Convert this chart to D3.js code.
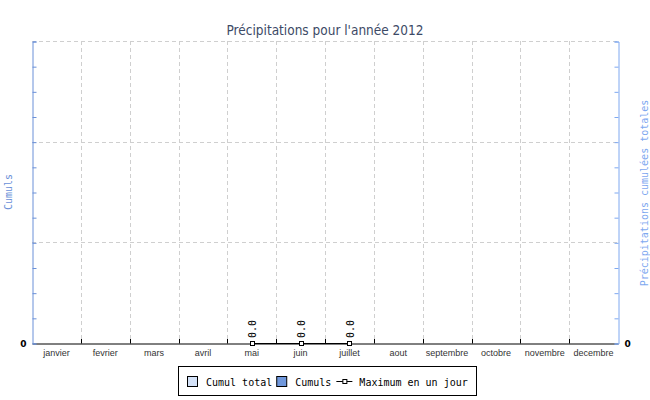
<!DOCTYPE html>
<html>
<head>
<meta charset="utf-8">
<script src="https://cdn.jsdelivr.net/npm/d3@7"></script>
<style>
  body { margin: 0; background: #fff; }
  svg { display: block; }
</style>
</head>
<body>
<svg width="650" height="400"></svg>
<script>
// data
var months = ["janvier", "fevrier", "mars", "avril", "mai", "juin", "juillet",
              "aout", "septembre", "octobre", "novembre", "decembre"];
var cumulTotal = [null, null, null, null, 0, 0, 0, null, null, null, null, null];
var cumuls     = [null, null, null, null, 0, 0, 0, null, null, null, null, null];
var maxJour    = [null, null, null, null, 0.0, 0.0, 0.0, null, null, null, null, null];
var yTicks = [0, 1, 2, 3, 4, 5, 6, 7, 8, 9, 10, 11, 12];
var yGrid = [4, 8, 12];

var svg = d3.select("svg");
var plotLeft = 32, plotRight = 618, plotTop = 41, plotBottom = 343;

var x = d3.scaleBand().domain(months).range([plotLeft, plotRight]);
var y = d3.scaleLinear().domain([0, 12]).range([plotBottom, plotTop]);
var y2 = d3.scaleLinear().domain([0, 12]).range([plotBottom, plotTop]);

var leftColor = "#6a90d8", rightColor = "#7ea8f0";
var lightFill = "#d4e2f8", darkFill = "#7098dc";

// title
svg.append("text")
    .attr("x", 325).attr("y", 35)
    .attr("text-anchor", "middle")
    .style("font-family", "'Liberation Sans Narrow', 'DejaVu Sans Condensed', sans-serif")
    .style("font-size", "13.5px")
    .attr("fill", "#3d4a66")
    .text("Précipitations pour l'année 2012");

// grid
var grid = svg.append("g")
    .attr("stroke", "#cfcfcf")
    .attr("stroke-dasharray", "4,3")
    .attr("shape-rendering", "crispEdges");

grid.selectAll("line.h")
  .data(yGrid)
  .enter().append("line")
    .attr("class", "h")
    .attr("x1", plotLeft).attr("x2", plotRight)
    .attr("y1", function(d) { return Math.round(y(d)) + 0.5; })
    .attr("y2", function(d) { return Math.round(y(d)) + 0.5; });

grid.selectAll("line.v")
  .data(months.slice(1))
  .enter().append("line")
    .attr("class", "v")
    .attr("x1", function(d) { return Math.round(x(d)) + 0.5; })
    .attr("x2", function(d) { return Math.round(x(d)) + 0.5; })
    .attr("y1", plotTop).attr("y2", plotBottom);

// bars (all zero here)
var bw = x.bandwidth() * 0.6;
svg.append("g").selectAll("rect")
  .data(months.map(function(m, i) { return {m: m, v: cumulTotal[i]}; }).filter(function(d) { return d.v != null; }))
  .enter().append("rect")
    .attr("x", function(d) { return x(d.m) + (x.bandwidth() - bw) / 2; })
    .attr("width", bw)
    .attr("y", function(d) { return y2(d.v); })
    .attr("height", function(d) { return plotBottom - y2(d.v); })
    .attr("fill", lightFill);

svg.append("g").selectAll("rect")
  .data(months.map(function(m, i) { return {m: m, v: cumuls[i]}; }).filter(function(d) { return d.v != null; }))
  .enter().append("rect")
    .attr("x", function(d) { return x(d.m) + (x.bandwidth() - bw * 0.6) / 2; })
    .attr("width", bw * 0.6)
    .attr("y", function(d) { return y(d.v); })
    .attr("height", function(d) { return plotBottom - y(d.v); })
    .attr("fill", darkFill);

// bottom axis
var xAxis = svg.append("g")
    .attr("transform", "translate(0," + (plotBottom + 0.5) + ")")
    .call(d3.axisBottom(x).tickSize(0).tickSizeOuter(0).tickPadding(6));
xAxis.select(".domain").attr("stroke", "#000");
xAxis.selectAll("text")
    .style("font-family", "'Liberation Sans', Arial, sans-serif")
    .style("font-size", "9px")
    .attr("fill", "#333");

svg.append("g").selectAll("line")
  .data(months.slice(1))
  .enter().append("line")
    .attr("x1", function(d) { return Math.round(x(d)) + 0.5; })
    .attr("x2", function(d) { return Math.round(x(d)) + 0.5; })
    .attr("y1", plotBottom - 4).attr("y2", plotBottom + 0.5)
    .attr("stroke", "#000");

// left axis
var yAxis = svg.append("g")
    .attr("transform", "translate(" + (plotLeft + 0.5) + ",0.5)")
    .call(d3.axisLeft(y).tickValues(yTicks).tickSize(-4).tickSizeOuter(-4).tickPadding(6)
      .tickFormat(function(d) { return d === 0 ? "0" : ""; }));
yAxis.selectAll("path, line").attr("stroke", leftColor);
yAxis.selectAll("text")
    .style("font-family", "'DejaVu Sans', sans-serif")
    .style("font-size", "9px").style("font-weight", "bold")
    .attr("fill", "#000");

// right axis
var y2Axis = svg.append("g")
    .attr("transform", "translate(" + (plotRight + 0.5) + ",0.5)")
    .call(d3.axisRight(y2).tickValues(yTicks).tickSize(-4).tickSizeOuter(-4).tickPadding(6)
      .tickFormat(function(d) { return d === 0 ? "0" : ""; }));
y2Axis.selectAll("path, line").attr("stroke", rightColor);
y2Axis.selectAll("text")
    .style("font-family", "'DejaVu Sans', sans-serif")
    .style("font-size", "9px").style("font-weight", "bold")
    .attr("fill", "#000");

// axis titles
svg.append("text")
    .attr("transform", "translate(12," + ((plotTop + plotBottom) / 2) + ") rotate(-90)")
    .attr("text-anchor", "middle")
    .style("font-family", "'DejaVu Sans Mono', monospace")
    .style("font-size", "10px")
    .attr("fill", leftColor)
    .text("Cumuls");

svg.append("text")
    .attr("transform", "translate(647.5," + ((plotTop + plotBottom) / 2 + 1) + ") rotate(-90)")
    .attr("text-anchor", "middle")
    .style("font-family", "'DejaVu Sans Mono', monospace")
    .style("font-size", "10px")
    .attr("fill", rightColor)
    .text("Précipitations cumulées totales");

// maximum en un jour
var maxData = months.map(function(m, i) { return {m: m, v: maxJour[i]}; })
    .filter(function(d) { return d.v != null; });
var cx = function(d) { return x(d.m) + x.bandwidth() / 2; };

svg.append("path")
    .datum(maxData)
    .attr("fill", "none")
    .attr("stroke", "#000")
    .attr("d", d3.line().x(cx).y(function(d) { return y(d.v) + 0.5; }));

svg.append("g").selectAll("rect")
  .data(maxData)
  .enter().append("rect")
    .attr("x", function(d) { return Math.round(cx(d)) - 2 + 0.5; })
    .attr("y", function(d) { return Math.round(y(d.v)) - 2 + 0.5; })
    .attr("width", 4).attr("height", 4)
    .attr("fill", "#fff").attr("stroke", "#000");

svg.append("g").selectAll("text")
  .data(maxData)
  .enter().append("text")
    .attr("transform", function(d) { return "translate(" + (cx(d) + 4.5) + "," + (y(d.v) - 5) + ") rotate(-90)"; })
    .style("font-family", "'DejaVu Sans Mono', monospace")
    .style("font-size", "10px")
    .attr("fill", "#000")
    .text(function(d) { return d3.format(".1f")(d.v); });

// legend
var legend = svg.append("g");
legend.append("rect")
    .attr("x", 178.5).attr("y", 366.5)
    .attr("width", 298).attr("height", 29)
    .attr("fill", "#fff").attr("stroke", "#000");

var items = [
  {label: "Cumul total", type: "rect", fill: lightFill},
  {label: "Cumuls", type: "rect", fill: darkFill},
  {label: "Maximum en un jour", type: "line"}
];
var lx = 187;
items.forEach(function(it) {
  var tx;
  if (it.type === "rect") {
    legend.append("rect")
        .attr("x", lx + 0.5).attr("y", 376.5)
        .attr("width", 10).attr("height", 10)
        .attr("fill", it.fill).attr("stroke", "#000");
    tx = lx + 19;
  } else {
    legend.append("line")
        .attr("x1", lx + 1).attr("x2", lx + 17)
        .attr("y1", 381.5).attr("y2", 381.5)
        .attr("stroke", "#000");
    legend.append("rect")
        .attr("x", lx + 7.5).attr("y", 379.5)
        .attr("width", 4).attr("height", 4)
        .attr("fill", "#fff").attr("stroke", "#000");
    tx = lx + 24;
  }
  var t = legend.append("text")
      .attr("x", tx).attr("y", 385.5)
      .style("font-family", "'DejaVu Sans Mono', monospace")
      .style("font-size", "10px")
      .attr("fill", "#000")
      .text(it.label);
  lx = tx + t.node().getComputedTextLength() + 4;
});
</script>
</body>
</html>
